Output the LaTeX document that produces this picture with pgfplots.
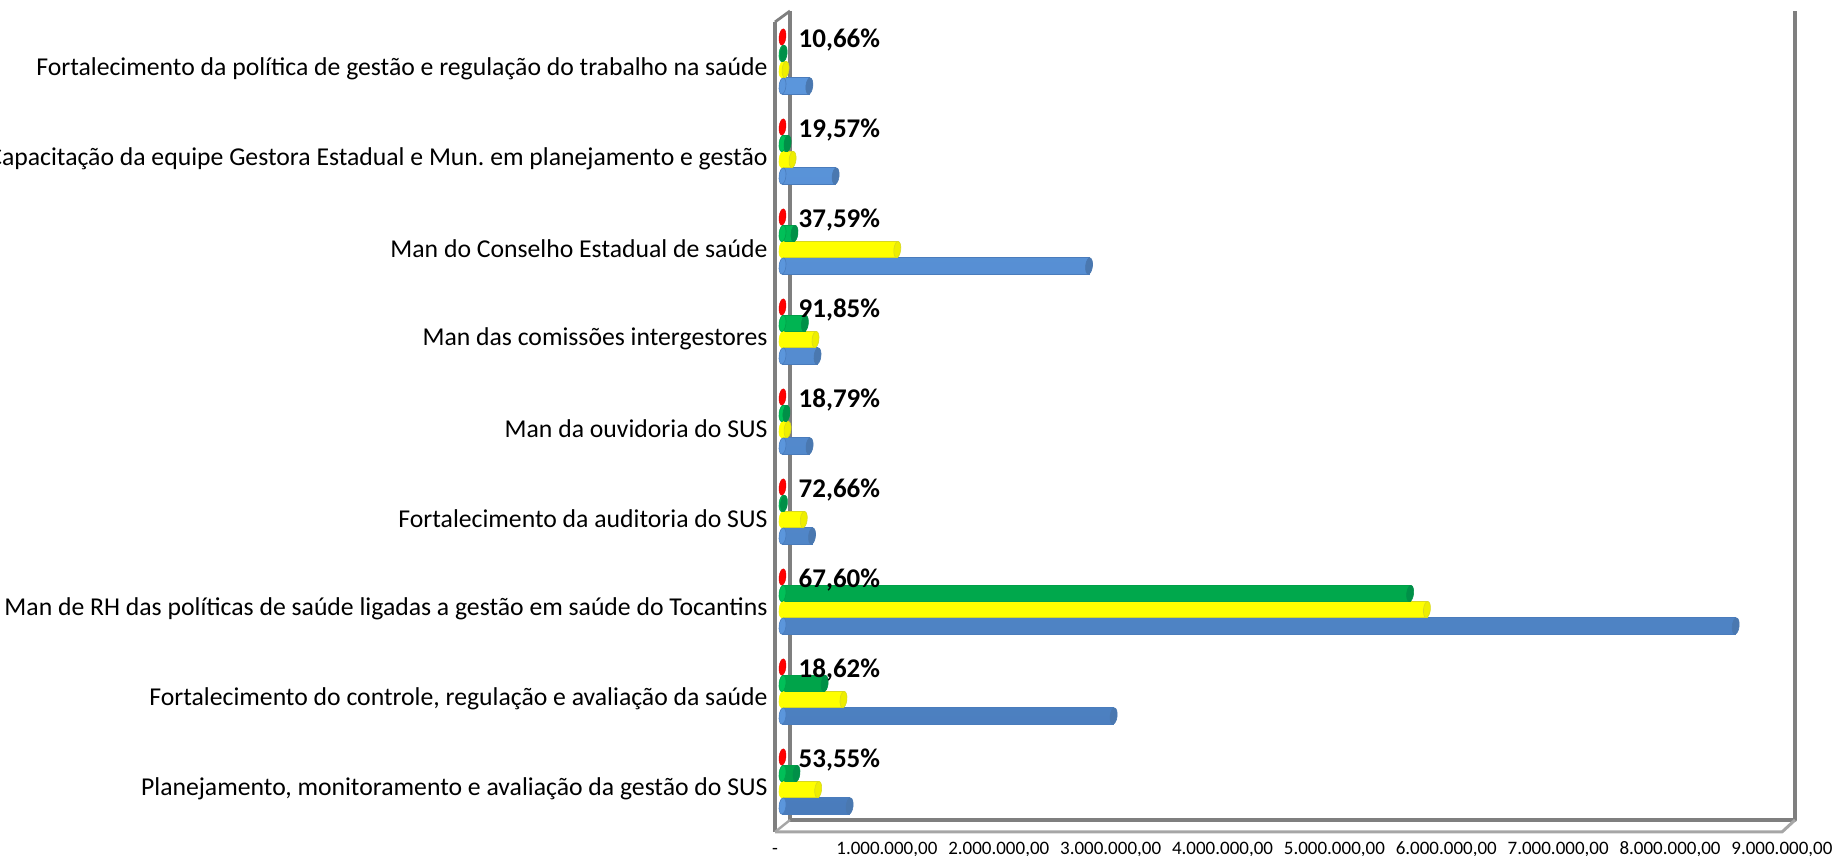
\documentclass[border=0pt]{standalone}
\usepackage{pgfplots}
\pgfplotsset{compat=1.18}
\usepackage{pgfplotstable}
\usepackage{fontspec}
\setmainfont{Carlito}
\frenchspacing
\pgfdeclareplotmark{capE}{%
  \pgfpathellipse{\pgfpointorigin}{\pgfqpoint{3.4pt}{-0.4pt}}{\pgfqpoint{0.9pt}{8.1pt}}%
  \pgfusepathqfillstroke}
\definecolor{bluM}{HTML}{5B96DC}\definecolor{bluB}{HTML}{4A7CBC}\definecolor{bluC}{HTML}{4A78B0}
\definecolor{yelF}{HTML}{FFFF00}\definecolor{yelE}{HTML}{D8D820}\definecolor{yelC}{HTML}{EEEE00}
\definecolor{grnM}{HTML}{00C058}\definecolor{grnB}{HTML}{00A048}\definecolor{grnC}{HTML}{009048}
\definecolor{redF}{HTML}{FF0000}\definecolor{redE}{HTML}{D80000}
\definecolor{frameG}{HTML}{7F7F7F}\definecolor{frameL}{HTML}{A6A6A6}
\pgfplotstableread{
y blue yellow green red pct
0 600000 319000 125000 0 53.55
1 2960000 545000 377000 0 18.62
2 8520000 5760000 5610000 0 67.60
3 264000 190000 13000 0 72.66
4 242000 45000 35000 0 18.79
5 313000 295000 200000 0 91.85
6 2740000 1026000 107000 0 37.59
7 475000 90000 45000 0 19.57
8 240000 27000 10000 0 10.66
}\datatable
\begin{document}
\begin{tikzpicture}[x=1pt,y=1pt]
\useasboundingbox (0,0) rectangle (1832,856);
\clip (0,0) rectangle (1832,856);
% 3-D frame of the chart
\draw[frameG,line width=3.2pt,line join=round] (790,845) -- (790,36) -- (1795,36) -- (1795,845);
\draw[frameG,line width=2.8pt,line join=round] (775,834) -- (790,845);
\draw[frameG,line width=3.2pt,line join=round] (775,834) -- (775,24);
\draw[frameL,line width=3pt,line join=round] (775,24) -- (1782,24) -- (1795,36);
\draw[frameL,line width=2.4pt] (775,24) -- (790,36);
% axis carrying the tick labels
\begin{axis}[
  at={(775pt,24pt)},anchor=south west,scale only axis,
  width=1007pt,height=810pt,
  xmin=0,xmax=9000000,ymin=-0.5,ymax=8.5,
  axis line style={draw=none},
  xtick={0,1000000,2000000,3000000,4000000,5000000,6000000,7000000,8000000,9000000},
  xticklabels={-,{1.000.000,00},{2.000.000,00},{3.000.000,00},{4.000.000,00},{5.000.000,00},{6.000.000,00},{7.000.000,00},{8.000.000,00},{9.000.000,00}},
  ytick={0,...,8},
  yticklabels={
    {Planejamento, monitoramento e avaliação da gestão do SUS},
    {Fortalecimento do controle, regulação e avaliação da saúde},
    {Man de RH das políticas de saúde ligadas a gestão em saúde do Tocantins},
    {Fortalecimento da auditoria do SUS},
    {Man da ouvidoria do SUS},
    {Man das comissões intergestores},
    {Man do Conselho Estadual de saúde},
    {Capacitação da equipe Gestora Estadual e Mun. em planejamento e gestão},
    {Fortalecimento da política de gestão e regulação do trabalho na saúde}},
  tick style={draw=none},
  xticklabel style={font=\fontsize{19}{19}\selectfont,anchor=base,yshift=-23pt},
  yticklabel style={font=\fontsize{25.7}{25.7}\selectfont,black,xshift=-4pt,yshift=-2pt},
  ylabel={},xlabel={},
]
\end{axis}
% axis carrying the bars (set back into the 3-D box)
\begin{axis}[
  at={(782.5pt,29.5pt)},anchor=south west,scale only axis,
  width=1007pt,height=810pt,
  xmin=0,xmax=9000000,ymin=-0.5,ymax=8.5,
  hide axis,clip=false,
  /pgf/number format/assume math mode=true,
  barsty/.style={xbar,bar width=16.5pt,bar shift=0pt},
]
% blue
\addplot[barsty,draw=bluB,line width=0.6pt,top color=bluM,middle color=bluM,bottom color=bluB]
  table[x=blue,y expr=\thisrow{y}-0.2722]{\datatable};
\addplot[only marks,mark=capE,mark options={fill=bluM,draw=bluB,line width=0.6pt}]
  table[x expr=0,y expr=\thisrow{y}-0.2722]{\datatable};
\addplot[only marks,mark=capE,mark options={fill=bluC,draw=bluC,line width=0.6pt}]
  table[x=blue,y expr=\thisrow{y}-0.2722]{\datatable};
% yellow
\addplot[barsty,draw=yelE,line width=0.6pt,fill=yelF]
  table[x=yellow,y expr=\thisrow{y}-0.0889]{\datatable};
\addplot[only marks,mark=capE,mark options={fill=yelF,draw=yelF,line width=0.6pt}]
  table[x expr=0,y expr=\thisrow{y}-0.0889]{\datatable};
\addplot[only marks,mark=capE,mark options={fill=yelC,draw=yelE,line width=0.6pt}]
  table[x=yellow,y expr=\thisrow{y}-0.0889]{\datatable};
% green
\addplot[barsty,draw=grnB,line width=0.6pt,top color=grnM,middle color=grnM,bottom color=grnB]
  table[x=green,y expr=\thisrow{y}+0.0889]{\datatable};
\addplot[only marks,mark=capE,mark options={fill=grnM,draw=grnB,line width=0.6pt}]
  table[x expr=0,y expr=\thisrow{y}+0.0889]{\datatable};
\addplot[only marks,mark=capE,mark options={fill=grnC,draw=grnC,line width=0.6pt}]
  table[x=green,y expr=\thisrow{y}+0.0889]{\datatable};
% red
\addplot[only marks,mark=capE,mark options={fill=redF,draw=redE,line width=0.4pt}]
  table[x=red,y expr=\thisrow{y}+0.2722]{\datatable};
% percentage labels
\addplot[only marks,mark=none,
  point meta=\thisrow{pct},
  nodes near coords={\pgfmathprintnumber[fixed,fixed zerofill,precision=2,use comma]{\pgfplotspointmeta}\%},
  nodes near coords align={anchor=west},
  every node near coord/.append style={font=\fontsize{27}{27}\selectfont\bfseries,black,inner sep=0pt,xshift=16pt,yshift=-2.5pt},
] table[x=red,y expr=\thisrow{y}+0.2611]{\datatable};
\end{axis}
\end{tikzpicture}
\end{document}
